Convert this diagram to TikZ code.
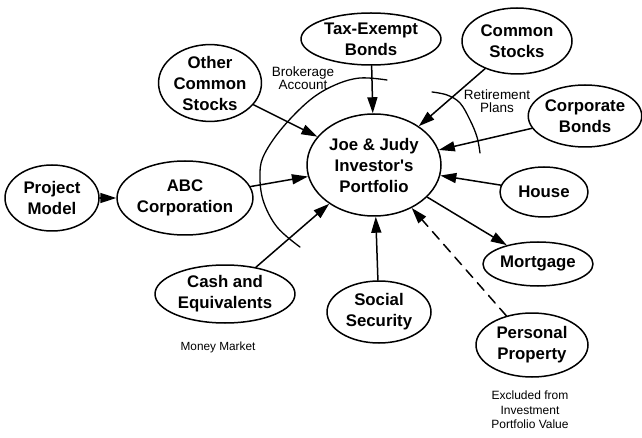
\documentclass[tikz,border=0pt]{standalone}
\usepackage{fontspec}
\setmainfont{Liberation Sans}
\usetikzlibrary{arrows.meta,shapes.geometric}

\begin{document}
\begin{tikzpicture}[line cap=round,line join=round,>={Triangle[length=16pt,width=10pt]},x=1pt,y=-1pt,
  asset/.style={ellipse,draw,line width=1.5pt,inner sep=0pt,align=center,font=\fontsize{16.8}{21}\selectfont\bfseries},
  note/.style={align=center,font=\fontsize{13.5}{13.5}\selectfont},
  link/.style={->,line width=1.5pt},
  bound/.style={line width=1.3pt}]
\useasboundingbox (0,0) rectangle (642,438);
\node[asset,minimum width=134pt,minimum height=102pt] (port) at (374,165) {Joe \& Judy\\Investor\textquotesingle s\\Portfolio};
\node[asset,minimum width=140pt,minimum height=52pt] (tax) at (371,39) {Tax-Exempt\\Bonds};
\node[asset,minimum width=110pt,minimum height=66pt] (common) at (517,41) {Common\\Stocks};
\node[asset,minimum width=102pt,minimum height=76pt] (other) at (210,83) {Other\\Common\\Stocks};
\node[asset,minimum width=106pt,minimum height=62pt] (corp) at (585,116) {Corporate\\Bonds};
\node[asset,minimum width=88pt,minimum height=50pt] (house) at (544,192) {House};
\node[asset,minimum width=94pt,minimum height=66pt] (project) at (52,198) {Project\\Model};
\node[asset,minimum width=108pt,minimum height=74pt] (abc) at (185,198) {ABC\\Corporation};
\node[asset,minimum width=140pt,minimum height=58pt] (cash) at (225,294) {Cash and\\Equivalents};
\node[asset,minimum width=104pt,minimum height=62pt] (social) at (379,312) {Social\\Security};
\node[asset,minimum width=110pt,minimum height=44pt] (mortgage) at (538,264) {Mortgage};
\node[asset,minimum width=112pt,minimum height=64pt] (personal) at (532,345) {Personal\\Property};
% notes
\node[note] (broker) at (303,78) {Brokerage\\Account};
\node[note] (retire) at (497,101) {Retirement\\Plans};
\node[note,font=\fontsize{11.8}{13}\selectfont] (money) at (218,347) {Money Market};
\node[note,font=\fontsize{12}{14.5}\selectfont] (excluded) at (530,410) {Excluded from\\Investment\\Portfolio Value};
% account boundaries
\draw[bound] plot[smooth,tension=0.6] coordinates {(387,80) (360,78) (335,85) (310,100) (283,127) (265,153) (260,172) (263,200) (277,227) (300,247)};
\draw[bound] plot[smooth,tension=0.6] coordinates {(432,92) (447,95) (460,103) (470,120) (477,137) (480,153)};
% flows
\draw[link] (tax) -- (port);
\draw[link] (common) -- (port);
\draw[link] (other) -- (port);
\draw[link] (corp) -- (port);
\draw[link] (house) -- (port);
\draw[link] (project) -- (abc);
\draw[link] (abc) -- (port);
\draw[link] (cash) -- (port);
\draw[link] (social) -- (port);
\draw[link] (port) -- (mortgage);
\draw[link,dash pattern=on 10pt off 7pt] (personal) -- (port);
\end{tikzpicture}
\end{document}
